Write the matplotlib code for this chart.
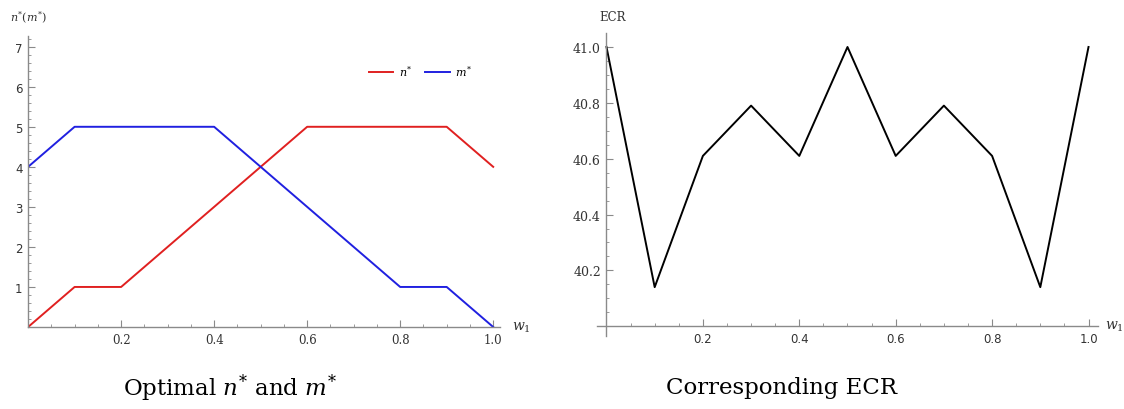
import matplotlib
matplotlib.use('Agg')
from matplotlib import pyplot as plt
from matplotlib.ticker import MultipleLocator, FixedLocator

plt.rcParams['mathtext.fontset'] = 'dejavuserif'

w1 = [0.0, 0.1, 0.2, 0.3, 0.4, 0.5, 0.6, 0.7, 0.8, 0.9, 1.0]
n_star = [0, 1, 1, 2, 3, 4, 5, 5, 5, 5, 4]
m_star = [4, 5, 5, 5, 5, 4, 3, 2, 1, 1, 0]
ecr = [41.0, 40.14, 40.61, 40.79, 40.61, 41.0, 40.61, 40.79, 40.61, 40.14, 41.0]

x_ticks = [0.2, 0.4, 0.6, 0.8, 1.0]
x_labels = ['0.2', '0.4', '0.6', '0.8', '1.0']
n_ticks = [1, 2, 3, 4, 5, 6, 7]
ecr_ticks = [40.2, 40.4, 40.6, 40.8, 41.0]
ecr_labels = ['40.2', '40.4', '40.6', '40.8', '41.0']

axis_col = '#8a8a8a'
text_col = '#333333'

fig = plt.figure(figsize=(11.24, 4.10), dpi=100)


def style(ax):
    for s in ['top', 'right']:
        ax.spines[s].set_visible(False)
    for s in ['left', 'bottom']:
        ax.spines[s].set_color(axis_col)
        ax.spines[s].set_linewidth(1.0)
    ax.tick_params(which='major', direction='in', length=5, color=axis_col,
                   labelsize=8.5, labelcolor=text_col, pad=4)
    ax.tick_params(which='minor', direction='in', length=2.5, color=axis_col)
    ax.xaxis.set_minor_locator(MultipleLocator(0.05))
    ax.set_xticks(x_ticks)
    ax.set_xticklabels(x_labels, family='DejaVu Serif')


# left chart
ax1 = fig.add_axes([0.025, 0.2, 0.42, 0.71])
ax1.plot(w1, n_star, color='#e02020', lw=1.4, label='$n^{*}$')
ax1.plot(w1, m_star, color='#2020e0', lw=1.4, label='$m^{*}$')
ax1.set_xlim(0, 1.015)
ax1.set_ylim(0, 7.27)
style(ax1)
ax1.set_yticks(n_ticks)
ax1.yaxis.set_minor_locator(MultipleLocator(0.2))
ax1.text(0.0, 7.55, '$n^{*}(m^{*})$', fontsize=8, color=text_col, ha='center', va='bottom')
ax1.text(1.04, 0.0, '$w_1$', fontsize=10, color=text_col, ha='left', va='center')
ax1.legend(loc='upper left', bbox_to_anchor=(0.7, 0.94), ncol=2, frameon=False,
           fontsize=8, handlelength=2.2, columnspacing=1.2, handletextpad=0.5)
fig.text(0.205, 0.054, 'Optimal $n^{*}$ and $m^{*}$', fontsize=16.5,
         family='DejaVu Serif', ha='center', va='center')

# right chart
ax2 = fig.add_axes([0.531, 0.178, 0.446, 0.739])
ax2.plot(w1, ecr, color='black', lw=1.4)
ax2.set_xlim(-0.02, 1.02)
ax2.set_ylim(39.965, 41.05)
style(ax2)
ax2.spines['left'].set_position(('data', 0))
ax2.spines['bottom'].set_position(('data', 40.0))
ax2.set_yticks(ecr_ticks)
ax2.set_yticklabels(ecr_labels, family='DejaVu Serif')
ax2.tick_params(axis='y', labelsize=9)
ax2.yaxis.set_minor_locator(FixedLocator([40.0 + 0.05 * i for i in range(21)]))
ax2.text(-0.015, 41.11, 'ECR', fontsize=8.5, family='DejaVu Serif', color=text_col,
         ha='left', va='center')
ax2.text(1.035, 40.0, '$w_1$', fontsize=10, color=text_col, ha='left', va='center')
fig.text(0.695, 0.054, 'Corresponding ECR', fontsize=16.5,
         family='DejaVu Serif', ha='center', va='center')

fig.savefig('out.png', dpi=100)
